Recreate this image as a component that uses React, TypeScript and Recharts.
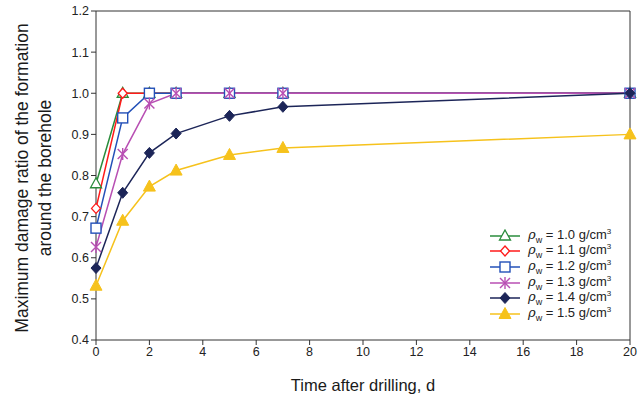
import React from 'react';
import {
  LineChart, Line, XAxis, YAxis, ReferenceLine, Label
} from 'recharts';

// 钻后时间 (d)
const days = [0, 1, 2, 3, 5, 7, 20];
const rho10 = [0.78, 1.0, 1.0, 1.0, 1.0, 1.0, 1.0];
const rho11 = [0.72, 1.0, 1.0, 1.0, 1.0, 1.0, 1.0];
const rho12 = [0.672, 0.94, 1.0, 1.0, 1.0, 1.0, 1.0];
const rho13 = [0.626, 0.852, 0.975, 1.0, 1.0, 1.0, 1.0];
const rho14 = [0.575, 0.758, 0.855, 0.902, 0.945, 0.967, 1.0];
const rho15 = [0.532, 0.69, 0.773, 0.812, 0.85, 0.867, 0.9];

const xTicks = [0, 2, 4, 6, 8, 10, 12, 14, 16, 18, 20];
const yTicks = [0.4, 0.5, 0.6, 0.7, 0.8, 0.9, 1.0, 1.1, 1.2];

const data = days.map((d, i) => ({
  day: d,
  r10: rho10[i],
  r11: rho11[i],
  r12: rho12[i],
  r13: rho13[i],
  r14: rho14[i],
  r15: rho15[i],
}));

type Shape = 'tri' | 'diamond' | 'square' | 'star' | 'fdiamond' | 'ftri';

const series: { key: string; label: string; color: string; shape: Shape }[] = [
  { key: 'r10', label: '1.0', color: '#2a8c3c', shape: 'tri' },
  { key: 'r11', label: '1.1', color: '#ff1a1a', shape: 'diamond' },
  { key: 'r12', label: '1.2', color: '#2350b8', shape: 'square' },
  { key: 'r13', label: '1.3', color: '#b84fb3', shape: 'star' },
  { key: 'r14', label: '1.4', color: '#1c2558', shape: 'fdiamond' },
  { key: 'r15', label: '1.5', color: '#f6c21c', shape: 'ftri' },
];

const font = '"Liberation Sans", Arial, sans-serif';

// 标记形状
const marker = (shape: Shape, color: string, cx: number, cy: number, k?: string | number) => {
  switch (shape) {
    case 'tri':
      return <polygon key={k} points={`${cx},${cy - 6} ${cx + 5.5},${cy + 4} ${cx - 5.5},${cy + 4}`} fill="#fff" stroke={color} strokeWidth={1.3} />;
    case 'diamond':
      return <polygon key={k} points={`${cx},${cy - 5} ${cx + 4.5},${cy} ${cx},${cy + 5} ${cx - 4.5},${cy}`} fill="#fff" stroke={color} strokeWidth={1.3} />;
    case 'square':
      return <rect key={k} x={cx - 5} y={cy - 5} width={10} height={10} fill="#fff" stroke={color} strokeWidth={1.4} />;
    case 'star':
      return (
        <g key={k} stroke={color} strokeWidth={1.4}>
          <line x1={cx - 5} y1={cy - 5} x2={cx + 5} y2={cy + 5} />
          <line x1={cx - 5} y1={cy + 5} x2={cx + 5} y2={cy - 5} />
          <line x1={cx} y1={cy - 6} x2={cx} y2={cy + 6} />
        </g>
      );
    case 'fdiamond':
      return <polygon key={k} points={`${cx},${cy - 5.5} ${cx + 5},${cy} ${cx},${cy + 5.5} ${cx - 5},${cy}`} fill={color} stroke={color} />;
    case 'ftri':
    default:
      return <polygon key={k} points={`${cx},${cy - 6.5} ${cx + 6},${cy + 4.5} ${cx - 6},${cy + 4.5}`} fill={color} stroke={color} />;
  }
};

const ChartLegend = () => (
  <div style={{ position: 'absolute', left: 488, top: 228, fontFamily: font, fontSize: 13, color: '#222' }}>
    {series.map((s) => (
      <div key={s.key} style={{ display: 'flex', alignItems: 'center', height: 15.6, whiteSpace: 'nowrap' }}>
        <svg width={34} height={14} style={{ marginRight: 6 }}>
          <line x1={2} y1={7} x2={32} y2={7} stroke={s.color} strokeWidth={1.5} />
          {marker(s.shape, s.color, 17, 7)}
        </svg>
        <span>
          <i style={{ fontFamily: '"DejaVu Serif", serif' }}>ρ</i>
          <sub style={{ fontSize: 9 }}>w</sub>
          {' = '}{s.label} g/cm<sup style={{ fontSize: 8 }}>3</sup>
        </span>
      </div>
    ))}
  </div>
);

const YTitle = () => {
  const cy = 178;
  return (
    <g fontFamily={font} fontSize={17.5} fill="#1a1a1a" textAnchor="middle">
      <text x={22} y={cy} transform={`rotate(-90, 22, ${cy})`} dominantBaseline="central">
        Maximum damage ratio of the formation
      </text>
      <text x={45} y={cy} transform={`rotate(-90, 45, ${cy})`} dominantBaseline="central">
        around the borehole
      </text>
    </g>
  );
};

export default function App() {
  return (
    <div style={{ position: 'absolute', left: 0, top: 0, width: 638, height: 407, background: '#fff' }}>
      <LineChart width={638} height={407} data={data} margin={{ top: 11, right: 8, bottom: 0, left: 0 }}>
        <XAxis
          dataKey="day"
          type="number"
          domain={[0, 20]}
          ticks={xTicks}
          height={67}
          stroke="#333"
          tick={{ fill: '#222', fontSize: 12.5, fontFamily: font }}
          tickSize={5}
        >
          <Label value="Time after drilling, d" position="insideBottom" offset={16}
            style={{ fontSize: 16.5, fontFamily: font, fill: '#1a1a1a' }} />
        </XAxis>
        <YAxis
          type="number"
          domain={[0.4, 1.2]}
          ticks={yTicks}
          width={96}
          stroke="#333"
          tickFormatter={(v: number) => v.toFixed(1)}
          tick={{ fill: '#222', fontSize: 12.5, fontFamily: font }}
          tickSize={5}
          label={<YTitle />}
        />
        <ReferenceLine y={1.2} stroke="#333" />
        <ReferenceLine x={20} stroke="#333" />
        {series.map((s) => (
          <Line
            key={s.key}
            type="linear"
            dataKey={s.key}
            stroke={s.color}
            strokeWidth={1.5}
            isAnimationActive={false}
            dot={(p: any) => marker(s.shape, s.color, p.cx, p.cy, `${s.key}-${p.index}`)}
            activeDot={false}
          />
        ))}
      </LineChart>
      <ChartLegend />
    </div>
  );
}
